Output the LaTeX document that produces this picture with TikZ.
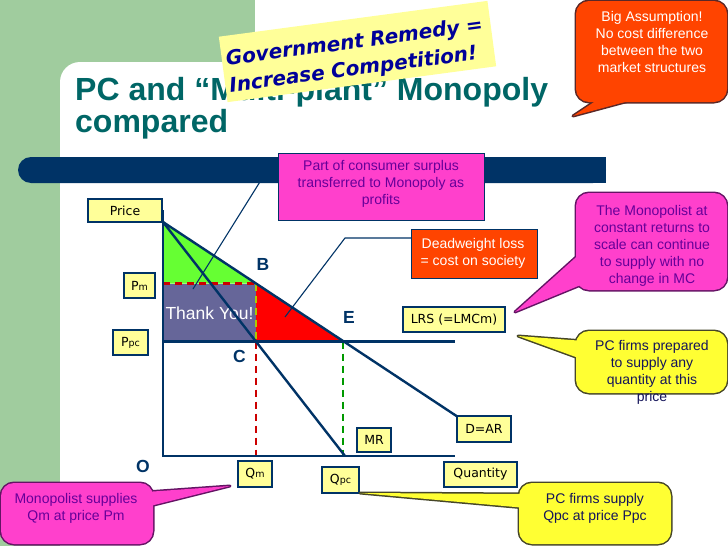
\documentclass[tikz,border=0pt]{standalone}
\usepackage{fontspec}
\setmainfont{Liberation Sans}
\newfontfamily\vfont{DejaVu Sans}
\newfontfamily\stickyfont{DejaVu Sans}
\definecolor{bggreen}{RGB}{160,204,158}
\definecolor{navy}{RGB}{0,51,102}
\definecolor{titleteal}{RGB}{0,102,102}
\definecolor{lyellow}{RGB}{255,255,153}
\definecolor{cyellow}{RGB}{255,255,51}
\definecolor{cpink}{RGB}{255,64,204}
\definecolor{ppurple}{RGB}{102,0,153}
\definecolor{corange}{RGB}{255,68,0}
\definecolor{trigreen}{RGB}{102,255,51}
\definecolor{rectpurple}{RGB}{102,102,153}
\definecolor{dashred}{RGB}{204,0,0}
\definecolor{dashgreen}{RGB}{0,153,0}
\definecolor{dasholive}{RGB}{170,204,0}
\definecolor{pinkedge}{RGB}{100,20,100}
\definecolor{yellowedge}{RGB}{70,70,40}
\definecolor{orangeedge}{RGB}{90,40,40}
\definecolor{stickyblue}{RGB}{0,0,153}
\definecolor{ytext}{RGB}{20,20,90}
\newcommand{\mycallout}[7]{%
  \draw[draw=#2, line width=3pt, rounded corners=13pt] #3 rectangle #4;
  \draw[draw=#2, line width=3pt, line join=round] #5 -- #6 -- #7 -- cycle;
  \fill[#1, rounded corners=13pt] #3 rectangle #4;
  \fill[#1] #5 -- #6 -- #7 -- cycle;}
\begin{document}
\begin{tikzpicture}[x=1pt,y=-1pt,
  lbl/.style={draw=navy, line width=1.6pt, fill=lyellow, inner sep=0pt, text=black,
    font=\vfont\fontsize{12.5}{14}\selectfont},
  ltr/.style={inner sep=0pt, text=navy, font=\bfseries\fontsize{17.5}{18}\selectfont},
  curve/.style={draw=navy, line width=2.4pt},
  dashl/.style={line width=2.4pt, dash pattern=on 7pt off 5pt},
  ptr/.style={draw=navy, line width=1.1pt},
  ctext/.style={align=center, inner sep=0pt, font=\fontsize{14}{17}\selectfont},
  titletext/.style={anchor=base west, inner sep=0pt, text=titleteal,
    font=\bfseries\fontsize{32}{32}\selectfont}]
\useasboundingbox (0,0) rectangle (728,546);
% background
\fill[bggreen] (0,0) rectangle (728,546);
\fill[white, rounded corners=20pt] (60,62) rectangle (780,600);
\fill[white] (255,0) rectangle (728,70);
% title
\node[titletext] (title1) at (75,100) {PC and “Multi-plant” Monopoly};
\node[titletext] (title2) at (75,132) {compared};
% bar
\fill[navy, rounded corners=13pt] (18,157) rectangle (606,183);
\fill[navy] (560,157) rectangle (606,183);
% sticky note
\node[fill=lyellow, rotate=7.6, minimum width=271pt, minimum height=66pt, inner sep=0pt] (remedy)
  at (357.5,51.5) {};
\node[rotate=7.6, text width=263pt, inner sep=0pt, align=left, text=stickyblue,
  font=\stickyfont\bfseries\itshape\fontsize{20}{27}\selectfont] (remedytext)
  at (358.2,56) {Government Remedy =\\Increase Competition!};
% diagram coordinates
\coordinate (T) at (163,222);
\coordinate (B) at (256,283.5);
\coordinate (C) at (256,341.5);
\coordinate (E) at (343,341.5);
\coordinate (PmP) at (163,283.5);
\coordinate (PpcP) at (163,341.5);
\coordinate (O) at (163,456);
\coordinate (Ytop) at (163,210);
\coordinate (Xend) at (455,456);
\coordinate (Lend) at (455,341.5);
\coordinate (MRend) at (345,456);
\coordinate (Dend) at (458,417);
\coordinate (Cfoot) at (256,456);
\coordinate (Efoot) at (343,456);
% areas
\fill[trigreen] (T) -- (PmP) -- (B) -- cycle;
\fill[rectpurple] (PmP) rectangle (C);
\fill[red] (B) -- (C) -- (E) -- cycle;
\node[inner sep=0pt, text=white, font=\fontsize{17.5}{18}\selectfont] (thanks) at (209.5,313.5) {Thank You!};
% dashed
\draw[dashl, dashred] (PmP) -- (B);
\draw[dashl, dashred] (C) -- (Cfoot);
\draw[dashl, dasholive] (B) -- (C);
\draw[dashl, dashgreen] (E) -- (Efoot);
% curves
\draw[curve] (Ytop) -- (O) -- (Xend);
\draw[curve] (PpcP) -- (Lend);
\draw[curve] (T) -- (Dend);
\draw[curve] (T) -- (MRend);
% letters
\node[ltr] (lB) at (263,264.5) {B};
\node[ltr] (lE) at (349,317) {E};
\node[ltr] (lC) at (239.5,356.5) {C};
\node[ltr] (lO) at (143,466) {O};
% label boxes
\node[lbl, minimum width=74pt, minimum height=23pt] (price) at (125,210.5) {Price};
\node[lbl, minimum width=31pt, minimum height=25pt] (pm) at (139.5,285.5) {P{\fontsize{9.5}{9}\selectfont m}};
\node[lbl, minimum width=35pt, minimum height=25pt] (ppc) at (130.5,342.5) {P{\fontsize{9.5}{9}\selectfont pc}};
\node[lbl, minimum width=34pt, minimum height=26pt] (qm) at (255,474) {Q{\fontsize{9.5}{9}\selectfont m}};
\node[lbl, minimum width=37pt, minimum height=26pt] (qpc) at (340.5,480) {Q{\fontsize{9.5}{9}\selectfont pc}};
\node[lbl, minimum width=73pt, minimum height=25pt] (qty) at (480.5,474.5) {Quantity};
\node[lbl, minimum width=34pt, minimum height=24pt] (mr) at (374,440) {MR};
\node[lbl, minimum width=54pt, minimum height=26pt] (dar) at (484,429) {D=AR};
\node[lbl, minimum width=102pt, minimum height=25pt] (lrs) at (454,319.5) {LRS (=LMCm)};
% pointer lines
\coordinate (sline) at (273.6,160);
\coordinate (sdot) at (193,289);
\draw[ptr] (sline) -- (sdot);
\coordinate (dwA) at (411,238);
\coordinate (dwK) at (345,238);
\coordinate (dwdot) at (285,317);
\draw[ptr] (dwA) -- (dwK) -- (dwdot);
% surplus box
\node[draw=navy, line width=1pt, fill=cpink, minimum width=206pt, minimum height=67pt, inner sep=0pt] (surplus) at (381,186.5) {};
\node[ctext, text=ppurple] (surplustext) at (381,183.5) {Part of consumer surplus\\transferred to Monopoly as\\profits};
% deadweight box
\node[draw=navy, line width=1pt, fill=corange, minimum width=126pt, minimum height=49pt, inner sep=0pt] (dwl) at (474,253.5) {};
\node[ctext, text=white] (dwltext) at (473,253) {Deadweight loss\\= cost on society};
% callouts
\mycallout{corange}{orangeedge}{(576,1)}{(727,102)}{(573,116)}{(600,98)}{(640,98)}
\node[ctext, text=white] (assume) at (652,41.5) {Big Assumption!\\No cost difference\\between the two\\market structures};
\mycallout{cpink}{pinkedge}{(576,193)}{(727,290)}{(515,312)}{(584,250)}{(588,282)}
\node[ctext, text=ppurple] (mono) at (652,245.5) {The Monopolist at\\constant returns to\\scale can continue\\to supply with no\\change in MC};
\mycallout{cyellow}{yellowedge}{(576,331)}{(727,393)}{(518,336)}{(584,341)}{(584,360)}
\node[ctext, text=ytext] (pcprep) at (652,372) {PC firms prepared\\to supply any\\quantity at this\\price};
\mycallout{cpink}{pinkedge}{(1,483)}{(153,544)}{(230,486)}{(146,492)}{(146,507)}
\node[ctext, text=ppurple] (monosup) at (76,508) {Monopolist supplies\\Qm at price Pm};
\mycallout{cyellow}{yellowedge}{(519,483)}{(671,544)}{(360,493)}{(526,494)}{(526,508)}
\node[ctext, text=ytext] (pcsup) at (595,508) {PC firms supply\\Qpc at price Ppc};
\end{tikzpicture}
\end{document}
